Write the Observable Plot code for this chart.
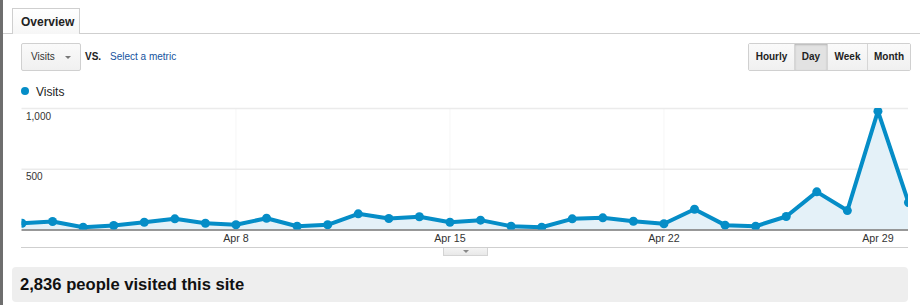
<!DOCTYPE html>
<html>
<head>
<meta charset="utf-8">
<script src="https://cdn.jsdelivr.net/npm/d3@7"></script>
<script src="https://cdn.jsdelivr.net/npm/@observablehq/plot@0.6"></script>
<style>
  html, body { margin: 0; padding: 0; background: #fff; }
  body { width: 920px; height: 305px; position: relative; overflow: hidden;
         font-family: "Liberation Sans", Arial, Helvetica, sans-serif; color: #222; }
  .abs { position: absolute; }
  #leftbar { left: 0; top: 0; width: 3px; height: 305px; background: #6e6e6e; }
  #tabline { left: 3px; top: 33px; width: 917px; height: 1px; background: #cfcfcf; }
  #tab { left: 12px; top: 8px; width: 68px; height: 26px; border: 1px solid #cfcfcf; border-bottom: none;
         background: linear-gradient(#fff, #f6f6f6); box-sizing: border-box; font-weight: bold; font-size: 12px;
         line-height: 26px; padding-left: 8px; color: #222; }
  #dropdown { left: 21px; top: 43px; width: 60px; height: 28px; border: 1px solid #d0d0d0; border-radius: 2px;
         box-sizing: border-box; background: linear-gradient(#fafafa, #f0f0f0); font-size: 10px; line-height: 26px;
         padding-left: 9px; color: #333; }
  #caret { left: 43px; top: 12px; width: 0; height: 0; border-left: 3px solid transparent; border-right: 3px solid transparent;
         border-top: 3px solid #777; }
  #vs { left: 85px; top: 51px; font-size: 10px; font-weight: bold; color: #222; }
  #sel { left: 110px; top: 51px; font-size: 10px; color: #15539e; }
  #btns { left: 748px; top: 43px; height: 28px; display: flex; border: 1px solid #d0d0d0; border-radius: 2px; box-sizing: border-box; }
  .btn { height: 26px; line-height: 26px; font-size: 10px; font-weight: bold; color: #222; text-align: center;
         background: linear-gradient(#fafafa, #f0f0f0); border-left: 1px solid #d6d6d6; box-sizing: border-box; }
  .btn:first-child { border-left: none; }
  .btn.active { background: #e2e2e2; box-shadow: inset 0 1px 2px rgba(0,0,0,0.2); }
  #legdot { left: 21px; top: 87px; width: 8px; height: 8px; border-radius: 50%; background: #058dc7; }
  #legtxt { left: 36px; top: 85px; font-size: 12px; color: #222; }
  #chart { left: 0; top: 100px; }
  #bottomline { left: 21px; top: 247px; width: 887px; height: 1px; background: #cfcfcf; }
  #handle { left: 443px; top: 248px; width: 45px; height: 8px; border: 1px solid #d4d4d4; border-top: none; box-sizing: border-box;
            background: linear-gradient(#f4f4f4, #e8e8e8); }
  #handletri { left: 19px; top: 2px; width: 0; height: 0; border-left: 3px solid transparent; border-right: 3px solid transparent; border-top: 3px solid #888; }
  #summary { left: 12px; top: 267px; width: 896px; height: 35px; background: #eeeeee; border-radius: 4px;
             font-size: 16.6px; font-weight: bold; line-height: 35px; padding-left: 8px; box-sizing: border-box; color: #111; }
</style>
</head>
<body>
<div id="leftbar" class="abs"></div>
<div id="tabline" class="abs"></div>
<div id="tab" class="abs">Overview</div>
<div id="dropdown" class="abs">Visits<div id="caret" class="abs"></div></div>
<div id="vs" class="abs">VS.</div>
<div id="sel" class="abs">Select a metric</div>
<div id="btns" class="abs"></div>
<div id="legdot" class="abs"></div>
<div id="legtxt" class="abs">Visits</div>
<div id="chart" class="abs"></div>
<div id="bottomline" class="abs"></div>
<div id="handle" class="abs"><div id="handletri" class="abs"></div></div>
<div id="summary" class="abs">2,836 people visited this site</div>
<script>
// ---- data ----
const days = ["2012-04-01","2012-04-02","2012-04-03","2012-04-04","2012-04-05","2012-04-06","2012-04-07","2012-04-08",
  "2012-04-09","2012-04-10","2012-04-11","2012-04-12","2012-04-13","2012-04-14","2012-04-15","2012-04-16",
  "2012-04-17","2012-04-18","2012-04-19","2012-04-20","2012-04-21","2012-04-22","2012-04-23","2012-04-24",
  "2012-04-25","2012-04-26","2012-04-27","2012-04-28","2012-04-29","2012-04-30"];
const visits = [56, 70, 23, 37, 64, 92, 56, 43, 97, 31, 43, 133, 95, 109, 64, 81,
  31, 23, 92, 100, 72, 51, 171, 40, 31, 111, 314, 160, 978, 226];
const xTickDays = ["2012-04-08", "2012-04-15", "2012-04-22", "2012-04-29"];
const yTicks = [500, 1000];
const buttons = ["Hourly", "Day", "Week", "Month"];
const buttonWidths = [45, 33, 40, 43];
const activeButton = "Day";

// ---- buttons ----
const btns = document.getElementById("btns");
buttons.forEach((b, i) => {
  const el = document.createElement("div");
  el.className = "btn" + (b === activeButton ? " active" : "");
  el.style.width = buttonWidths[i] + "px";
  el.textContent = b;
  btns.appendChild(el);
});

// ---- chart ----
const parse = d3.utcParse("%Y-%m-%d");
const data = days.map((d, i) => ({date: parse(d), visits: visits[i]}));
const xTicks = xTickDays.map(parse);
const blue = "#058dc7";

const chart = Plot.plot({
  width: 920,
  height: 150,
  marginLeft: 21.5,
  marginRight: 12,
  marginTop: 8,
  marginBottom: 20.5,
  style: {fontFamily: "'Liberation Sans', Arial, sans-serif", background: "transparent", color: "#333"},
  x: {type: "utc", domain: [data[0].date, data[data.length - 1].date]},
  y: {domain: [0, 1000]},
  marks: [
    Plot.ruleX(xTicks, {stroke: "#f6f6f6", strokeWidth: 1}),
    Plot.ruleY(yTicks, {stroke: "#ebebeb", strokeWidth: 1.5}),
    Plot.areaY(data, {x: "date", y: "visits", fill: "#e4f1f8", clip: true}),
    Plot.ruleY([0], {stroke: "#333", strokeWidth: 1}),
    Plot.lineY(data, {x: "date", y: "visits", stroke: blue, strokeWidth: 4, strokeLinejoin: "round", clip: true}),
    Plot.dot(data, {x: "date", y: "visits", r: 4.5, fill: blue, clip: true}),
    Plot.axisY(yTicks, {anchor: "left", tickSize: 0, tickPadding: 0, textAnchor: "start", dx: 4, dy: 8,
      tickFormat: d3.format(","), fontSize: 10, fill: "#333", label: null}),
    Plot.axisX(xTicks, {anchor: "bottom", tickSize: 0, tickPadding: 4, tickFormat: d3.utcFormat("%b %-d"),
      fontSize: 10.7, fill: "#333", label: null})
  ]
});
document.getElementById("chart").appendChild(chart);
</script>
</body>
</html>
